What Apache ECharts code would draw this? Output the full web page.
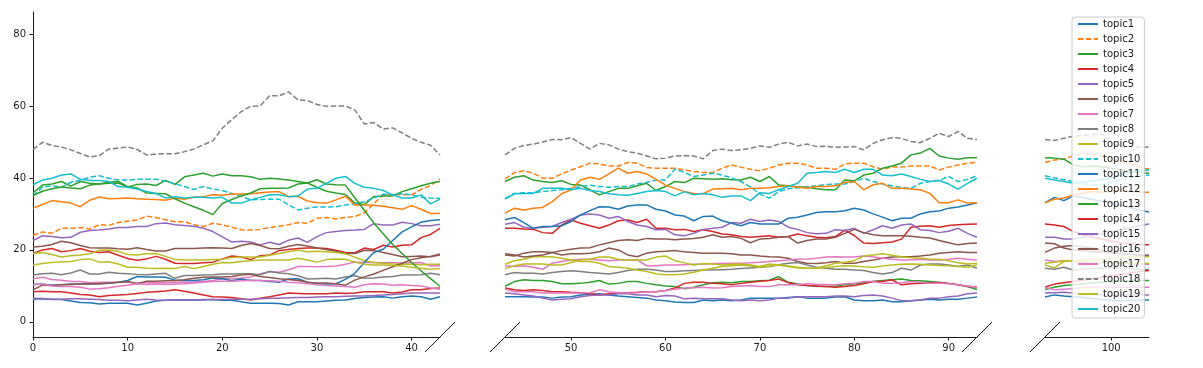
<!DOCTYPE html>
<html><head><meta charset="utf-8">
<script src="https://cdn.jsdelivr.net/npm/echarts@6/dist/echarts.min.js"></script>
<style>html,body{margin:0;padding:0;background:#fff}#c{width:1203px;height:368px}</style>
</head><body><div id="c"></div>
<script>
// x positions (0..104)
const xValues = [0,1,2,3,4,5,6,7,8,9,10,11,12,13,14,15,16,17,18,19,20,21,22,23,24,25,26,27,28,29,30,31,32,33,34,35,36,37,38,39,40,41,42,43,
44,45,46,47,48,49,50,51,52,53,54,55,56,57,58,59,60,61,62,63,64,65,66,67,68,69,70,71,72,73,74,75,76,77,
78,79,80,81,82,83,84,85,86,87,88,89,90,91,92,93,94,95,96,97,98,99,100,101,102,103,104];

const topic1 = [6.3,6.4,6.3,6.2,5.8,5.4,5.3,5.0,5.2,5.2,5.2,4.7,5.2,5.8,6.0,6.1,6.1,6.1,6.1,6.2,6.0,6.0,5.6,5.2,5.2,5.2,5.1,4.7,5.6,5.6,5.6,5.8,6.0,6.1,6.5,6.8,6.9,7.0,6.6,7.0,7.2,7.0,6.3,7.0,
7.0,7.0,6.9,6.9,6.6,6.9,7.0,7.5,7.7,7.8,7.5,7.2,7.0,6.8,6.6,6.1,5.9,
5.5,5.4,5.4,6.1,5.9,6.1,5.9,6.1,6.6,6.6,6.6,6.6,6.8,7.0,6.6,6.6,6.6,
6.9,7.0,6.1,5.9,5.9,6.1,5.6,5.6,5.9,6.1,6.3,6.1,6.3,6.3,6.6,6.9,
7.5,7.2,7.0,6.8,6.5,6.2,6.0,5.8,6.0,6.1,6.1];
const topic2 = [24.0,25.0,24.6,26.0,26.0,26.2,25.8,27.0,26.8,27.6,28.0,28.3,29.4,29.0,28.4,27.8,27.8,27.0,26.5,27.4,27.0,26.3,25.6,25.5,25.7,26.2,26.6,27.0,27.6,27.4,28.8,29.0,28.6,29.0,29.3,30.3,32.8,35.3,35.3,35.3,35.3,36.8,37.9,39.7,
41.5,42.0,41.3,39.9,39.9,41.1,42.2,43.1,44.1,43.9,43.3,43.3,44.3,44.1,42.9,42.7,42.7,
42.7,42.2,41.8,41.5,41.5,42.7,43.6,43.0,42.4,42.0,42.7,43.6,44.1,44.1,43.6,42.7,42.7,
42.4,43.9,44.1,44.1,43.1,42.4,43.0,43.0,43.3,43.3,43.3,42.2,43.0,43.6,44.1,44.3,
45.0,45.2,46.2,46.8,46.6,46.1,45.5,44.8,44.0,43.0,42.4];
const topic3 = [35.8,38.0,38.3,39.0,37.7,39.0,38.5,38.3,38.5,38.6,37.5,38.2,38.3,37.9,39.3,38.2,40.3,40.8,41.3,40.5,41.1,40.6,40.6,40.3,39.6,39.9,39.7,39.4,39.0,38.6,37.4,36.3,35.8,35.4,33.0,32.6,34.8,35.0,35.0,36.2,37.0,37.8,38.5,39.0,
40.2,40.6,39.4,39.0,38.7,39.2,38.2,38.0,36.7,35.3,36.2,37.1,37.1,37.8,38.5,36.5,37.6,
39.0,38.7,39.9,39.8,39.6,39.8,39.5,39.4,40.2,39.0,40.4,38.0,37.8,37.5,37.5,37.0,36.7,
36.7,39.4,39.2,40.8,41.3,42.7,43.3,44.1,46.4,46.9,48.2,46.1,45.5,45.2,45.6,45.6,
45.5,45.2,43.6,43.1,43.3,43.1,42.6,42.2,41.8,41.5,41.3];
const topic4 = [19.0,20.0,20.4,19.5,19.8,20.4,19.6,19.3,19.5,18.5,17.6,17.1,17.5,18.2,17.4,16.3,16.2,16.2,16.4,16.6,17.5,18.3,18.0,17.3,18.4,18.6,19.8,20.1,20.4,20.5,20.5,20.4,19.9,19.3,19.2,20.5,20.1,21.3,20.8,21.3,21.4,23.4,24.3,26.0,
26.0,25.8,25.7,24.8,24.6,26.9,28.3,27.4,26.7,26.0,26.9,28.1,28.3,27.6,28.5,26.0,26.0,
25.6,25.7,25.1,25.6,25.1,24.4,24.2,23.7,23.5,23.7,23.9,23.5,23.7,24.4,23.9,23.5,23.4,
23.7,25.5,24.0,21.9,21.8,22.0,22.2,23.0,26.3,26.6,26.7,26.3,26.8,27.0,27.1,27.2,
26.9,26.5,25.1,24.2,23.5,23.0,22.5,22.0,21.8,21.5,21.4];
const topic5 = [22.6,23.9,23.7,23.4,23.5,24.9,25.4,25.5,25.8,26.2,26.2,26.5,26.5,27.3,27.5,27.0,26.8,26.6,26.0,25.1,23.6,22.2,22.4,22.2,21.4,22.1,21.5,22.7,23.3,22.1,23.7,24.8,25.1,25.4,25.5,25.7,27.3,26.9,26.9,27.7,27.3,26.7,26.7,27.1,
27.6,26.3,26.0,26.3,26.5,27.6,28.5,29.7,30.0,29.7,28.8,29.3,27.9,26.9,26.5,25.6,25.7,
24.2,23.9,24.6,25.7,26.0,26.3,27.6,27.4,28.5,27.9,28.3,27.9,26.3,25.7,24.8,24.5,24.6,
25.6,25.4,26.0,24.6,25.6,26.7,26.0,26.9,27.2,25.6,25.4,24.8,25.2,26.0,24.6,23.5,
23.5,23.0,23.0,23.5,24.0,24.5,25.0,25.6,26.2,26.8,27.2];
const topic6 = [20.8,21.0,21.5,22.4,22.0,21.2,20.6,20.5,20.5,20.3,20.2,20.6,20.1,19.7,19.7,20.4,20.4,20.4,20.5,20.6,20.5,20.4,21.2,21.8,21.2,20.4,20.3,21.0,21.5,21.1,20.5,20.1,19.6,19.0,19.0,19.9,19.8,19.3,18.7,18.1,18.2,18.3,18.1,18.6,
18.3,19.1,19.5,19.5,19.3,18.6,18.9,18.9,19.1,19.5,20.5,20.0,18.6,18.1,19.1,19.5,19.6,
19.8,19.5,19.3,19.1,19.1,19.1,18.9,18.6,18.6,18.3,18.1,18.0,17.7,16.8,16.3,16.2,16.4,
16.8,16.3,16.3,16.8,17.2,17.7,18.0,18.1,18.1,18.3,18.6,19.1,19.3,19.5,19.3,19.3,
20.5,21.0,21.2,20.8,20.5,20.0,19.5,19.0,18.7,18.5,18.4];
const topic7 = [12.0,12.4,11.8,11.6,11.2,11.2,10.9,11.0,11.0,11.0,11.0,10.9,10.9,10.9,10.9,11.0,11.0,11.1,11.2,11.5,12.0,12.0,12.2,12.5,13.3,14.0,13.8,14.5,15.4,15.4,15.3,15.4,15.5,16.0,16.6,16.5,16.5,16.4,16.5,16.3,16.4,16.5,15.5,15.6,
15.4,15.6,15.2,14.6,16.3,16.8,17.2,17.4,17.4,17.2,17.0,17.2,17.2,17.2,15.6,15.6,15.8,
15.8,15.9,16.0,16.0,16.2,16.2,16.3,16.3,16.4,16.6,16.8,17.0,17.2,17.4,17.5,17.7,18.0,
18.1,18.0,18.0,18.3,18.1,17.7,17.4,17.2,17.2,17.4,17.2,17.2,17.4,17.7,17.4,17.2,
16.8,17.0,16.8,16.6,16.5,16.4,16.3,16.2,16.1,16.0,16.0];
const topic8 = [13.0,13.4,13.5,13.1,13.6,14.4,13.3,13.3,13.8,13.5,13.4,13.2,13.1,13.3,13.5,12.1,12.9,12.9,13.0,13.1,13.3,13.3,13.4,13.4,13.1,14.0,13.6,13.4,12.8,11.9,12.0,12.1,11.9,12.5,12.8,12.1,12.2,12.5,12.6,13.0,13.0,13.1,13.5,13.1,
13.7,13.5,13.5,13.3,13.7,14.0,14.2,14.0,13.7,13.5,13.3,13.7,14.3,14.6,14.6,14.4,14.0,
14.0,14.2,14.3,14.4,14.4,14.5,14.6,14.8,15.0,15.2,15.4,15.9,16.3,16.5,15.8,15.2,14.9,
14.6,14.6,14.4,14.3,13.7,13.3,13.7,14.9,14.4,15.8,16.1,16.1,15.8,15.4,15.8,14.9,
14.6,15.2,14.4,14.6,14.8,14.9,15.0,15.0,14.8,14.6,14.5];
const topic9 = [19.0,19.3,18.7,18.0,18.4,18.6,18.9,19.9,20.0,19.6,18.7,18.6,18.9,19.0,18.2,17.3,17.2,17.2,17.2,17.3,17.4,17.9,18.0,18.0,18.0,18.5,19.0,19.5,20.0,19.5,19.6,19.5,19.3,18.9,18.0,17.0,16.5,16.3,16.1,16.0,16.0,15.9,16.0,16.0,
17.0,17.4,18.1,18.1,18.1,17.7,17.2,16.8,16.8,16.3,15.4,15.2,14.9,14.4,14.0,13.4,13.1,
13.1,13.3,13.8,14.4,14.9,15.4,15.6,15.8,15.5,15.2,15.5,15.8,15.5,15.2,15.0,14.9,15.1,
15.4,15.6,15.5,15.3,15.2,15.5,15.8,16.0,16.1,16.0,15.8,15.7,15.6,15.4,15.2,15.8,
15.0,16.8,17.0,17.2,17.4,17.5,17.6,17.8,17.9,18.0,18.1];
const topic10 = [35.0,37.4,37.8,37.4,38.8,39.3,40.2,40.6,39.9,39.4,39.4,39.6,39.6,39.6,39.1,38.4,37.6,36.8,37.6,36.9,36.5,35.7,34.8,33.9,34.0,34.1,34.1,32.5,31.1,31.6,31.9,31.9,32.0,32.5,32.8,33.4,34.4,35.5,35.3,35.6,35.3,34.6,34.4,34.3,
35.7,35.9,35.9,36.2,36.5,36.7,37.1,37.6,38.0,37.6,37.4,37.6,37.6,38.3,38.8,39.4,39.4,
42.5,41.5,40.4,40.8,41.3,40.8,40.0,39.0,37.5,35.5,34.4,36.2,37.0,37.3,37.5,37.8,38.2,
38.3,38.3,39.0,39.9,39.0,38.3,37.8,37.3,37.1,38.5,39.0,39.3,40.4,39.0,39.6,40.6,
40.0,39.5,39.0,38.5,38.0,38.2,38.8,39.5,40.0,40.5,40.8];
const topic11 = [10.4,10.5,10.2,10.3,10.5,10.5,10.6,10.6,10.7,11.0,11.5,12.6,12.5,12.5,12.4,11.6,11.5,11.5,11.7,12.2,12.0,11.4,11.9,11.5,11.5,11.2,11.0,11.9,12.0,11.0,10.6,10.5,10.6,11.8,13.5,16.5,19.3,20.2,22.6,25.0,26.4,27.7,28.2,28.4,
29.0,27.6,26.0,26.5,26.5,26.7,27.9,29.7,30.9,32.0,31.9,31.3,32.2,32.5,32.5,31.3,30.8,
29.7,29.4,28.1,29.3,29.4,28.1,27.4,26.7,27.6,27.2,27.2,27.2,28.8,29.1,29.7,30.4,30.6,
30.6,30.9,31.6,31.1,30.0,29.1,28.1,28.8,28.8,30.0,30.6,30.8,31.6,31.9,32.5,33.1,
34.6,33.7,35.0,34.5,34.0,33.5,33.0,32.5,31.8,31.0,30.5];
const topic12 = [31.6,32.6,33.7,33.4,33.0,32.0,33.8,34.7,34.2,34.3,34.4,34.2,34.1,34.0,33.8,34.4,34.1,34.6,34.8,35.3,35.2,35.5,35.5,35.6,35.9,36.1,36.2,34.8,34.9,33.6,33.1,33.0,33.9,34.9,32.5,32.5,32.4,32.1,31.7,31.3,32.3,31.3,30.1,30.2,
31.6,31.1,31.6,31.8,33.4,35.6,36.7,39.4,40.2,39.6,41.1,42.7,41.3,41.8,41.1,39.6,38.0,
37.1,36.2,35.7,35.6,36.9,37.0,37.1,36.7,37.1,37.1,37.3,37.6,37.8,37.4,37.1,37.6,37.6,
37.8,38.7,39.0,36.7,38.1,38.5,37.1,37.1,36.9,36.7,35.7,33.1,33.1,33.9,33.0,33.1,
34.1,34.4,35.3,35.8,36.2,36.0,36.3,36.5,36.2,36.0,36.0];
const topic13 = [35.1,36.3,37.0,37.5,37.2,37.0,38.0,38.3,38.8,39.0,37.6,37.2,35.8,35.7,35.6,34.2,33.0,32.0,31.0,29.8,32.9,34.0,35.0,35.8,37.0,37.1,37.1,37.2,38.3,38.6,39.5,38.3,38.1,38.0,34.5,31.0,27.5,24.5,21.5,19.0,16.5,14.2,12.0,9.9,
11.2,11.7,11.5,11.5,11.2,10.6,10.6,10.7,11.0,11.5,10.5,10.7,11.2,11.2,10.7,10.3,10.0,
9.8,9.2,9.6,10.3,10.9,11.0,10.9,11.2,11.2,11.4,11.6,12.6,11.0,10.5,10.1,9.9,9.8,
10.0,10.3,10.6,10.9,11.2,11.5,11.7,11.9,11.5,11.4,11.2,11.0,10.7,10.3,9.8,9.0,
9.6,10.1,10.3,10.6,10.8,11.0,11.2,11.3,11.4,11.5,11.5];
const topic14 = [8.4,8.5,8.4,8.4,8.0,7.6,7.5,7.0,7.3,7.5,7.6,7.9,8.2,8.4,8.6,8.9,8.5,8.0,7.5,7.0,6.9,6.8,6.4,6.1,6.6,7.0,7.5,8.0,7.9,7.8,7.8,7.8,8.0,7.9,8.0,8.4,8.4,8.4,8.0,8.3,8.9,8.9,9.3,9.4,
8.9,8.7,8.9,8.7,8.4,8.4,8.2,8.1,7.8,7.5,7.8,8.0,8.1,8.2,8.4,8.4,8.7,
9.4,10.7,11.0,11.0,10.7,10.6,10.3,10.7,11.0,11.3,11.5,11.9,10.9,10.3,10.1,10.0,9.8,
9.6,9.8,10.1,10.6,11.2,11.2,11.7,10.3,10.6,10.7,10.9,10.9,10.7,10.3,9.8,9.7,
10.5,10.9,11.2,11.6,12.0,12.4,12.8,13.2,13.6,14.0,14.3];
const topic15 = [6.6,6.5,6.2,6.3,6.4,6.4,6.3,6.2,6.0,6.0,5.9,6.1,6.3,6.1,6.0,6.1,6.1,6.1,6.2,6.2,6.2,6.3,6.3,6.3,6.4,6.6,6.6,6.7,6.8,6.8,6.9,7.0,7.0,7.1,7.2,7.2,7.3,7.5,7.6,7.8,8.0,8.0,8.0,8.0,
7.8,7.5,7.2,6.6,6.1,6.3,6.4,7.0,7.3,7.5,7.5,7.8,7.8,7.5,7.5,7.0,7.3,
7.2,6.4,6.6,6.4,6.4,6.4,6.1,5.9,6.1,5.9,6.1,6.6,6.6,6.9,7.0,7.0,7.0,
7.2,7.2,7.0,7.3,7.5,7.2,6.6,5.9,5.9,6.1,6.6,6.6,7.0,7.2,7.8,8.0,
8.1,8.2,8.0,7.8,7.6,7.5,7.3,7.3,7.4,7.5,7.5];
const topic16 = [8.9,10.2,10.1,10.3,10.4,10.5,10.5,10.6,10.7,11.0,11.2,10.6,11.3,11.3,11.4,11.5,11.7,12.1,12.4,12.5,12.5,12.6,13.0,13.2,12.6,12.3,12.0,11.8,11.5,11.0,10.8,10.8,10.6,10.2,11.6,12.5,13.3,14.3,15.3,16.3,17.3,17.8,18.2,18.9,
18.6,18.0,18.3,18.6,19.3,19.8,20.2,20.5,20.6,21.4,22.0,22.6,22.8,22.6,23.2,23.0,23.0,
22.8,23.0,23.2,23.5,24.2,23.5,23.7,23.2,22.0,23.0,23.2,23.5,23.7,21.9,22.6,23.0,23.0,
23.5,24.6,25.7,24.8,24.2,23.9,23.9,23.9,23.8,23.5,23.3,22.6,22.0,21.4,21.8,21.9,
21.7,20.5,20.0,19.8,19.5,19.5,19.2,19.0,18.8,18.6,18.5];
const topic17 = [10.3,10.5,10.0,9.8,9.8,9.6,9.1,9.2,9.5,9.9,10.2,10.6,10.4,10.5,10.4,10.5,10.6,10.8,11.0,11.2,11.3,11.3,11.4,11.6,11.5,11.4,11.3,11.0,10.9,10.6,10.3,10.1,10.0,9.8,9.6,10.3,10.6,10.5,10.2,10.3,10.1,10.0,9.4,9.1,
8.4,8.4,8.4,8.0,8.0,8.0,8.0,8.0,8.1,8.9,8.4,8.1,8.0,8.1,8.4,8.4,8.7,
9.1,9.4,9.5,9.6,9.4,9.5,9.8,10.0,10.1,9.8,9.8,10.3,10.3,10.3,10.6,10.4,10.4,
10.3,10.6,10.7,11.2,11.2,10.7,10.7,10.9,11.2,11.0,10.7,10.7,10.6,10.3,10.0,9.6,
8.9,9.1,9.3,9.5,9.6,9.7,9.7,9.6,9.6,9.6,9.6];
const topic18 = [47.9,49.9,49.0,48.6,47.8,46.8,45.8,46.2,48.0,48.3,48.6,47.9,46.4,46.6,46.7,46.7,47.3,48.0,49.2,50.3,53.8,56.2,58.4,59.9,60.0,62.8,62.8,63.9,61.7,61.5,60.4,59.9,60.0,60.0,58.9,55.0,55.4,53.6,53.9,52.5,51.0,49.9,49.1,46.4,
48.2,49.0,49.4,50.0,50.7,50.6,51.2,49.6,48.0,49.6,49.2,48.0,47.3,46.9,46.1,45.3,45.5,
46.1,46.2,46.1,45.3,47.6,48.0,47.6,47.8,48.2,48.9,48.5,49.4,49.9,48.9,49.4,48.7,48.8,
48.5,48.6,48.7,47.8,49.6,50.6,51.2,51.0,50.1,49.8,51.0,52.4,51.5,52.9,51.0,50.7,
50.4,51.0,51.6,51.8,52.0,52.2,50.0,48.7,48.7,48.5,48.6];
const topic19 = [15.8,16.2,16.5,16.7,16.8,17.3,17.5,16.6,16.7,16.1,15.2,15.2,14.9,14.8,14.9,14.8,15.4,14.8,15.4,16.0,16.5,16.4,16.8,17.0,17.2,17.2,17.2,17.2,17.7,17.2,16.6,17.3,17.5,17.4,16.6,16.0,15.8,15.8,15.7,15.5,15.2,14.9,14.6,14.8,
15.6,16.1,16.1,16.1,15.8,15.8,16.5,17.2,17.4,18.0,18.0,17.4,17.2,17.2,17.2,18.0,18.3,
17.0,16.4,15.8,16.2,16.1,15.8,16.0,16.1,15.8,15.4,16.1,15.8,15.4,15.0,14.9,14.9,15.6,
16.3,16.6,17.0,18.3,18.6,18.9,18.5,18.1,17.8,17.7,17.5,17.4,17.0,16.4,16.1,16.3,
16.6,17.0,16.9,16.8,16.6,16.5,16.4,16.4,16.3,16.3,16.2];
const topic20 = [38.1,39.4,39.9,40.8,41.1,39.6,39.3,39.3,39.0,37.6,37.4,36.9,36.2,35.7,34.4,34.8,34.4,34.6,34.6,34.4,34.6,33.0,33.0,33.9,34.6,35.3,35.3,34.8,35.0,36.9,37.1,38.5,39.9,40.4,38.5,37.4,37.1,36.5,35.3,34.4,34.4,35.3,32.8,34.1,
35.6,35.7,35.7,37.1,37.1,37.1,36.7,37.1,36.5,36.2,35.6,35.3,35.2,35.7,36.2,36.5,36.2,
35.0,36.2,35.3,35.7,35.3,34.6,35.0,35.0,33.7,35.9,35.7,36.7,37.6,38.5,41.3,41.5,41.8,
41.5,42.4,41.5,42.4,42.4,40.8,40.6,41.1,40.4,39.6,39.0,39.3,38.3,36.9,38.5,39.9,
39.4,39.0,38.5,38.8,39.2,39.5,40.0,40.8,41.5,42.0,42.2];

const topicNames = ['topic1','topic2','topic3','topic4','topic5','topic6','topic7','topic8','topic9','topic10',
  'topic11','topic12','topic13','topic14','topic15','topic16','topic17','topic18','topic19','topic20'];
const topicValues = [topic1,topic2,topic3,topic4,topic5,topic6,topic7,topic8,topic9,topic10,
  topic11,topic12,topic13,topic14,topic15,topic16,topic17,topic18,topic19,topic20];
const dashedTopics = ['topic2','topic10','topic18'];

const yTicks = [0,20,40,60,80];
const xTicksA = [0,10,20,30,40];
const xTicksB = [50,60,70,80,90];
const xTicksC = [100];
const panelRanges = [[0,43],[43,93],[93,104]];
const panelTicks = [xTicksA,xTicksB,xTicksC];
const yMin = -4.2, yMax = 86.1;

const palette = ['#1f77b4','#ff7f0e','#2ca02c','#d62728','#9467bd','#8c564b','#e377c2','#7f7f7f','#bcbd22','#17becf'];
const gridBoxes = [
  {left:33, top:12, width:407, height:325},
  {left:505, top:12, width:472, height:325},
  {left:1045, top:12, width:104, height:325}
];
const FONT = 'DejaVu Sans';
const INK = '#1a1a1a';

const chart = echarts.init(document.getElementById('c'), null, {renderer:'canvas'});

const xAxes = panelRanges.map((r, i) => ({
  type:'value', gridIndex:i, min:r[0], max:r[1],
  axisLine:{show:true, onZero:false, lineStyle:{color:INK, width:1}},
  axisTick:{show:true, length:3.5, inside:false, customValues:panelTicks[i], lineStyle:{color:INK, width:1}},
  axisLabel:{show:true, customValues:panelTicks[i], margin:6, fontSize:10, fontFamily:FONT, color:INK},
  splitLine:{show:false}
}));
const yAxes = panelRanges.map((r, i) => ({
  type:'value', gridIndex:i, min:yMin, max:yMax, show: i === 0,
  axisLine:{show:true, onZero:false, lineStyle:{color:INK, width:1}},
  axisTick:{show:true, length:3.5, customValues:yTicks, lineStyle:{color:INK, width:1}},
  axisLabel:{show:true, customValues:yTicks, margin:7, fontSize:10, fontFamily:FONT, color:INK},
  splitLine:{show:false}
}));

const series = [];
panelRanges.forEach((r, p) => {
  topicNames.forEach((name, t) => {
    const color = palette[t % 10];
    const vals = topicValues[t];
    const data = [];
    xValues.forEach((x, i) => { if (x >= r[0] && x <= r[1] && vals[i] != null) data.push([x, vals[i]]); });
    series.push({
      type:'line', name, xAxisIndex:p, yAxisIndex:p, data,
      symbol:'none', showSymbol:false, silent:true, clip:true, animation:false,
      lineStyle:{color, width:1.5, type: dashedTopics.includes(name) ? [5.5, 2.4] : 'solid'},
      itemStyle:{color}
    });
  });
});

chart.setOption({
  animation:false,
  backgroundColor:'#ffffff',
  grid: gridBoxes.map(g => Object.assign({containLabel:false}, g)),
  xAxis: xAxes,
  yAxis: yAxes,
  legend:{
    data: topicNames, orient:'vertical', left:1072, top:17,
    padding:[2,4,4,5], itemGap:5, itemWidth:20, itemHeight:10,
    selectedMode:false,
    itemStyle:{opacity:0, borderWidth:0},
    lineStyle:{width:2},
    backgroundColor:'rgba(255,255,255,0.8)', borderColor:'#cccccc', borderWidth:1, borderRadius:3,
    textStyle:{fontSize:10, fontFamily:FONT, color:INK}
  },
  series
});

// diagonal break marks at the joined axis ends
const breakEnds = [[0, 43], [1, 43], [1, 93], [2, 93]];
const marks = breakEnds.map(([gi, x]) => {
  const pt = chart.convertToPixel({gridIndex: gi}, [x, yMin]);
  return {type:'line', silent:true, z:100,
    shape:{x1:pt[0]-15, y1:pt[1]+15, x2:pt[0]+15, y2:pt[1]-15},
    style:{stroke:INK, lineWidth:1}};
});
chart.setOption({graphic: marks});
</script>
</body></html>
